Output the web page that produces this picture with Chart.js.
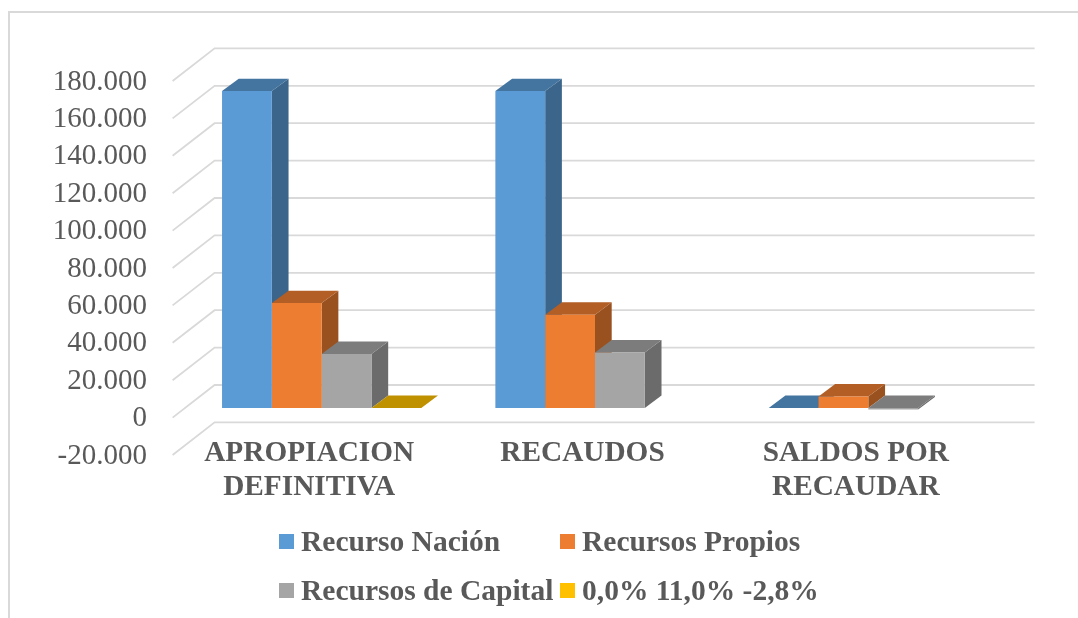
<!DOCTYPE html>
<html>
<head>
<meta charset="utf-8">
<title>Recursos</title>
<script src="https://cdn.jsdelivr.net/npm/chart.js@4"></script>
<style>
    html, body { margin: 0; padding: 0; background: #fff; overflow: hidden; }
    #marco { position: absolute; left: 8px; top: 11px; width: 1070px; height: 607px; border-left: 2px solid #d9d9d9; border-top: 2px solid #d9d9d9; box-sizing: border-box; }
    #grafico { position: absolute; left: 0; top: 0; }
    #leyenda { position: absolute; left: 279px; top: 517px; display: grid; grid-template-columns: 281px auto; grid-auto-rows: 49px; font: bold 29.5px "Liberation Serif", serif; color: #595959; white-space: nowrap; }
    #leyenda div { display: flex; align-items: center; }
    #leyenda span { display: inline-block; width: 15px; height: 15px; margin-right: 7px; }
</style>
</head>
<body>
<div id="marco"></div>
<canvas id="grafico" width="1078" height="618"></canvas>
<div id="leyenda"></div>
<script>
const categorias = [["APROPIACION", "DEFINITIVA"], "RECAUDOS", ["SALDOS POR", "RECAUDAR"]];
const recursoNacion = [169500, 169500, 0];
const recursosPropios = [56100, 49930, 6170];
const recursosCapital = [28900, 29700, -800];
const serieAuxiliar = [0, null, null];

// colores: frente, lado, tapa
const colores = [
    ["#5B9BD5", "#3B658A", "#4474A0"],
    ["#ED7D31", "#9A5120", "#B25E25"],
    ["#A5A5A5", "#6B6B6B", "#7C7C7C"],
    ["#FFC000", "#A67C00", "#BF9000"]
];

// Perspectiva: profundidad de la barra y de la pared
const barraDx = 16.7, barraDy = 12.4;
const frenteDx = 12.4, frenteDy = 9.6;
const fondoDx = 29.6, fondoDy = 23;

function cara(ctx, color, puntos) {
    ctx.fillStyle = color;
    ctx.beginPath();
    puntos.forEach((p, i) => i ? ctx.lineTo(p[0], p[1]) : ctx.moveTo(p[0], p[1]));
    ctx.closePath();
    ctx.fill();
}

// Paredes y lados 3D, antes de que Chart.js pinte los frentes
const plugin3d = {
    id: "plugin3d",
    beforeDatasetsDraw(chart) {
        const ctx = chart.ctx;
        const { left, right } = chart.chartArea;
        const escalaY = chart.scales.y;

        ctx.save();
        ctx.strokeStyle = "#d9d9d9";
        ctx.lineWidth = 1.8;
        escalaY.ticks.forEach(t => {
            const y = escalaY.getPixelForValue(t.value);
            ctx.beginPath();
            ctx.moveTo(left - frenteDx, y + frenteDy);
            ctx.lineTo(left + fondoDx, y - fondoDy);
            ctx.lineTo(right + fondoDx, y - fondoDy);
            ctx.stroke();
        });

        categorias.forEach((c, i) => {
            chart.data.datasets.forEach((d, s) => {
                if (d.data[i] === null) return;
                const barra = chart.getDatasetMeta(s).data[i];
                const x0 = barra.x - barra.width / 2;
                const x1 = barra.x + barra.width / 2;
                const arriba = Math.min(barra.y, barra.base);
                const abajo = Math.max(barra.y, barra.base);
                cara(ctx, colores[s][1], [[x1, arriba], [x1 + barraDx, arriba - barraDy], [x1 + barraDx, abajo - barraDy], [x1, abajo]]);
                cara(ctx, colores[s][2], [[x0, arriba], [x0 + barraDx, arriba - barraDy], [x1 + barraDx, arriba - barraDy], [x1, arriba]]);
            });
        });
        ctx.restore();
    }
};

const grafico = new Chart(document.getElementById("grafico").getContext("2d"), {
    type: "bar",
    data: {
        labels: categorias,
        datasets: [
            { label: "Recurso Nación", data: recursoNacion, backgroundColor: colores[0][0] },
            { label: "Recursos Propios", data: recursosPropios, backgroundColor: colores[1][0] },
            { label: "Recursos de Capital", data: recursosCapital, backgroundColor: colores[2][0] },
            { label: "0,0% 11,0% -2,8%", data: serieAuxiliar, backgroundColor: colores[3][0] }
        ]
    },
    options: {
        responsive: false,
        animation: false,
        categoryPercentage: 0.729,
        barPercentage: 1,
        layout: { padding: { top: 71.4, right: 73, left: 0, bottom: 0 } },
        plugins: { legend: { display: false }, tooltip: { enabled: false } },
        scales: {
            x: {
                grid: { display: false },
                border: { display: false },
                afterFit(escala) { escala.height = 172.6; },
                ticks: {
                    autoSkip: false,
                    maxRotation: 0,
                    mirror: true, // sin mirror Chart.js recorta la primera linea
                    padding: -25,
                    labelOffset: -12.5,
                    color: "#595959",
                    font: { family: "Liberation Serif", size: 29.3, weight: "bold", lineHeight: 1.14 }
                }
            },
            y: {
                min: -20000,
                max: 180000,
                grid: { display: false },
                border: { display: false },
                afterFit(escala) { escala.width = 185; },
                ticks: {
                    autoSkip: false,
                    stepSize: 20000,
                    padding: 30,
                    labelOffset: 10.5,
                    color: "#595959",
                    font: { family: "Liberation Serif", size: 29 },
                    callback: v => String(v).replace(/\B(?=(\d{3})+$)/g, ".")
                }
            }
        }
    },
    plugins: [plugin3d]
});

// Leyenda en dos columnas
grafico.data.datasets.forEach((d, i) => {
    const item = document.createElement("div");
    item.innerHTML = `<span style="background:${colores[i][0]}"></span>${d.label}`;
    document.getElementById("leyenda").appendChild(item);
});
</script>
</body>
</html>
